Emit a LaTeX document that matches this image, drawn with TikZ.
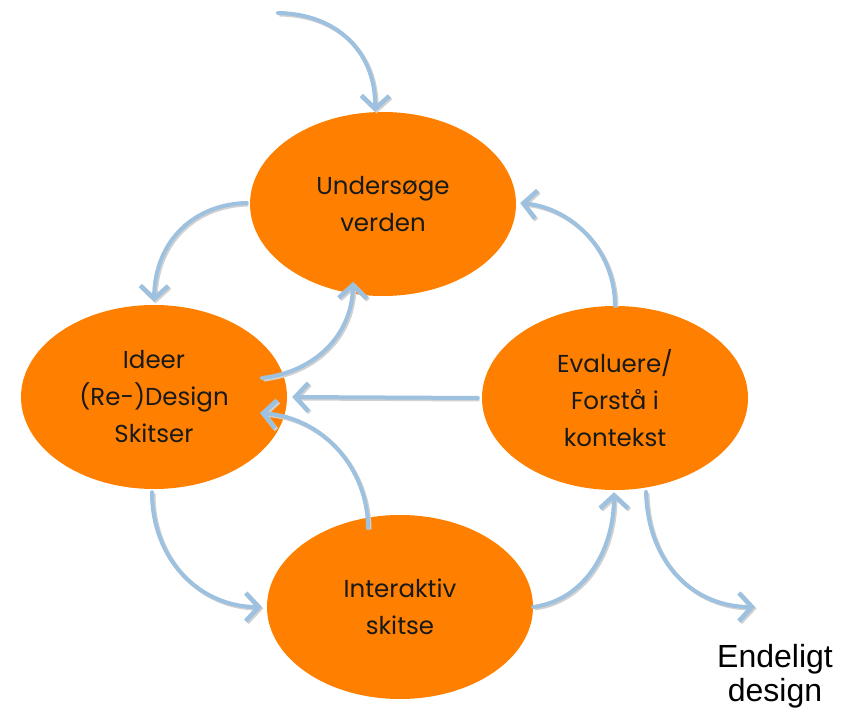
\documentclass[tikz,border=0pt]{standalone}
\usepackage{fontspec}
\setmainfont{Poppins}
\newfontfamily\arialfont{Liberation Sans}
\usetikzlibrary{shapes.geometric,arrows.meta,calc}
\definecolor{ovalorange}{RGB}{255,128,0}
\definecolor{arrowblue}{RGB}{157,193,222}
\tikzset{
  oval/.style={ellipse, fill=ovalorange, minimum width=266pt, minimum height=184pt,
    inner sep=0pt, align=center, font=\fontsize{24.5}{37}\selectfont, text=black!90},
  flow/.style={draw=arrowblue, line width=4pt, line cap=round,
    -{Straight Barb[length=13pt,width=28pt,line width=4.5pt]},
    preaction={draw=black!18, line width=4pt, transform canvas={shift={(1.5pt,-1.5pt)}},
      -{Straight Barb[length=13pt,width=28pt,line width=4.5pt]}}},
}
\begin{document}
\begin{tikzpicture}[x=1pt,y=-1pt]
\useasboundingbox (0,0) rectangle (849,711);
\node[oval] (u) at (383,204) {Undersøge\\verden};
\node[oval] (i) at (154,397) {Ideer\\(Re-)Design\\Skitser};
\node[oval] (e) at (615,398) {Evaluere/\\Forstå i\\kontekst};
\node[oval] (k) at (400,607) {Interaktiv\\skitse};
\node[font=\arialfont\fontsize{32}{34}\selectfont, align=center] (d) at (775,676) {Endeligt\\design};
\coordinate (s) at (278,13);
\coordinate (f) at (755,607);
% incoming
\draw[flow] (s) .. controls (340,14) and (376,55) .. ($(u.north)+(-8,0)$);
% undersoge -> ideer
\draw[flow] ($(u.west)+(-3,-1)$) .. controls (195,204) and (155,240) .. ($(i.north)+(0,-3)$);
% ideer -> undersoge
\draw[flow] ($(i.center)+(108,-19)$) .. controls (315,372) and (352,335) .. ($(u.center)+(-30,78)$);
% evaluere -> ideer
\draw[flow] ($(e.west)+(-4,0)$) -- ($(i.east)+(5,0)$);
% interaktiv -> ideer
\draw[flow] ($(k.center)+(-32,-79)$) .. controls (368,470) and (325,418) .. ($(i.center)+(106,16)$);
% ideer -> interaktiv
\draw[flow] ($(i.south)+(-2,3)$) .. controls (152,560) and (200,607) .. ($(k.west)+(-5,0)$);
% interaktiv -> evaluere
\draw[flow] (k.east) .. controls (585,600) and (614,550) .. ($(e.south)+(-1,2)$);
% evaluere -> undersoge
\draw[flow] (e.north) .. controls (615,250) and (572,208) .. ($(u.east)+(4,-1)$);
% evaluere -> endeligt design
\draw[flow] ($(e.center)+(31,94)$) .. controls (648,565) and (695,607) .. (f);
\end{tikzpicture}
\end{document}
